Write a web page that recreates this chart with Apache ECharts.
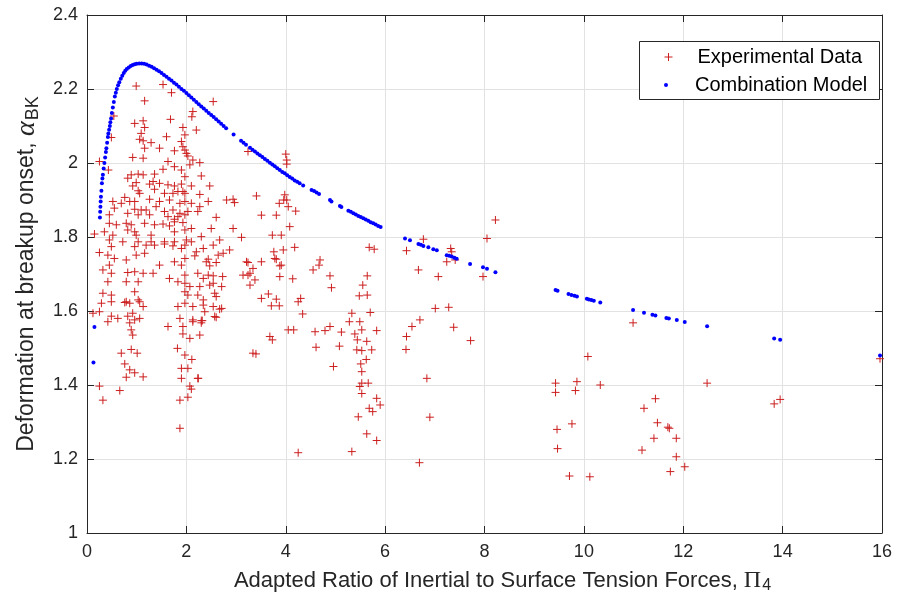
<!DOCTYPE html>
<html><head><meta charset="utf-8">
<script src="https://cdn.jsdelivr.net/npm/echarts/dist/echarts.min.js"></script>
<style>html,body{margin:0;padding:0;background:#fff}#c{width:897px;height:603px}</style>
</head><body><div id="c"></div>
<script>
// ---------- data ----------
const seriesNames = ['Experimental Data', 'Combination Model'];
const xTicks = [0, 2, 4, 6, 8, 10, 12, 14, 16];
const yTicks = [1, 1.2, 1.4, 1.6, 1.8, 2, 2.2, 2.4];

const expX = [
0.99,1.53,1.70,2.54,1.16,0.54,0.96,1.13,1.68,1.16,2.13,2.11,1.93,2.20,1.97,1.09,1.06,1.13,1.29,1.60,1.90,1.93,1.97,2.00,1.46,1.76,1.16,0.92,1.13,1.63,2.03,2.13,2.27,0.49,0.25,3.24,4.00,4.02,4.02,
0.43,2.07,2.30,0.89,1.03,1.13,0.82,1.36,1.53,1.76,1.90,1.97,0.92,0.99,1.26,1.33,1.46,1.63,1.76,1.90,1.93,1.97,2.10,2.47,1.03,1.06,1.36,1.56,1.73,1.83,2.27,0.76,0.86,0.96,0.69,0.52,1.26,1.46,1.66,1.87,1.97,2.10,2.44,2.81,2.94,2.97,0.55,0.96,1.09,1.19,1.39,1.56,1.73,1.87,2.03,2.23,2.27,0.45,0.82,1.03,1.26,1.63,1.76,1.83,1.97,2.60,0.45,0.59,0.79,0.89,1.16,1.36,1.53,1.66,1.76,1.93,2.10,2.50,2.94,0.15,0.35,0.52,0.82,0.96,0.99,1.29,1.76,1.97,2.30,2.67,3.11,0.45,0.72,1.03,1.29,1.56,1.76,2.00,2.10,
0.25,0.42,0.49,0.96,1.19,1.36,1.56,1.73,1.90,1.97,2.20,2.34,2.54,2.74,2.87,0.45,0.55,0.79,0.99,1.16,1.46,1.76,1.90,1.97,2.17,2.47,2.60,3.24,0.32,0.49,0.82,0.96,1.13,1.33,1.66,1.83,1.97,2.23,2.34,2.54,3.14,3.28,3.28,0.42,0.79,1.03,0.96,1.97,2.07,2.27,2.47,2.71,0.32,0.49,0.79,1.03,1.97,2.03,2.23,2.57,2.60,0.29,0.49,0.76,0.86,1.06,1.13,1.83,1.97,2.13,2.34,2.54,2.71,0.12,0.25,0.49,0.62,0.82,0.92,0.96,1.06,1.87,2.13,2.30,2.60,
0.42,0.86,0.89,0.92,1.63,1.93,1.93,2.07,2.27,2.13,2.30,0.69,0.89,1.01,1.82,1.97,2.11,3.34,0.76,0.86,0.96,0.79,1.13,1.90,2.03,1.90,2.23,0.25,0.66,2.07,2.10,0.32,1.87,2.03,1.87,
3.41,3.51,3.81,3.87,3.96,3.73,3.21,3.51,3.81,3.76,2.44,2.64,3.78,3.88,3.34,3.24,3.88,3.38,3.51,3.65,3.81,3.71,3.87,3.68,3.73,3.40,2.40,2.44,2.73,2.54,2.34,2.37,2.67,2.57,2.32,2.24,
3.98,4.02,4.05,4.20,4.08,3.91,4.18,3.95,4.14,4.30,4.25,4.34,4.05,4.16,4.25,3.91,4.69,4.67,4.55,4.89,4.92,4.59,4.79,4.89,4.61,5.12,5.08,4.96,5.33,5.68,5.78,5.64,5.55,5.48,5.64,5.70,5.33,5.28,5.49,5.83,5.53,5.39,5.44,5.63,5.43,5.53,5.73,5.62,5.51,5.53,5.53,5.66,5.49,5.53,5.83,5.90,5.68,5.75,5.46,5.63,5.83,6.43,6.77,6.67,7.07,7.32,7.34,7.24,7.41,8.22,8.05,7.97,7.01,7.28,6.54,6.70,6.43,6.42,7.38,7.72,6.84,6.90,6.69,9.43,9.43,9.86,9.83,9.46,9.76,9.47,
10.99,10.08,10.33,9.71,10.12,11.44,11.21,11.48,11.69,11.72,11.41,11.86,11.17,11.86,12.03,11.74,12.48,13.83,13.95,15.96
];
const expY = [
2.208,2.212,2.19,2.166,2.168,2.127,2.107,2.114,2.118,2.096,2.139,2.125,2.096,2.089,2.076,2.08,2.064,2.06,2.055,2.071,2.058,2.044,2.035,2.026,2.04,2.033,2.04,2.015,2.013,2.004,2.019,2.008,2.001,2.069,2.004,2.031,2.024,2.008,1.997,
1.981,1.995,1.965,1.968,1.970,1.968,1.959,1.970,1.983,1.990,1.981,1.963,1.938,1.947,1.943,1.950,1.945,1.941,1.938,1.943,1.923,1.918,1.938,1.938,1.925,1.918,1.929,1.918,1.918,1.923,1.915,1.907,1.896,1.896,1.891,1.896,1.902,1.896,1.900,1.891,1.896,1.891,1.896,1.900,1.902,1.893,1.878,1.875,1.873,1.873,1.882,1.869,1.873,1.864,1.869,1.869,1.882,1.860,1.864,1.860,1.860,1.855,1.848,1.855,1.860,1.853,1.837,1.833,1.837,1.833,1.837,1.833,1.835,1.830,1.841,1.839,1.823,1.823,1.823,1.808,1.814,1.805,1.819,1.814,1.805,1.805,1.814,1.819,1.801,1.792,1.799,1.792,1.787,1.787,1.787,1.787,1.787,1.792,1.787,
1.758,1.751,1.774,1.774,1.778,1.778,1.781,1.776,1.769,1.778,1.760,1.769,1.778,1.756,1.765,1.724,1.742,1.738,1.751,1.756,1.724,1.733,1.724,1.742,1.749,1.722,1.731,1.731,1.711,1.702,1.704,1.706,1.702,1.702,1.688,1.679,1.697,1.702,1.688,1.695,1.697,1.702,1.670,1.679,1.679,1.679,1.652,1.675,1.666,1.666,1.670,1.666,1.648,1.643,1.625,1.630,1.652,1.643,1.643,1.648,1.639,1.621,1.625,1.623,1.621,1.625,1.612,1.612,1.621,1.612,1.616,1.612,1.607,1.594,1.598,1.586,1.580,1.586,1.594,1.576,1.580,1.580,1.576,1.574,1.583,
1.571,1.568,1.549,1.535,1.558,1.558,1.538,1.526,1.535,1.571,1.568,1.486,1.496,1.486,1.499,1.481,1.469,1.486,1.457,1.441,1.433,1.421,1.422,1.445,1.445,1.418,1.418,1.397,1.385,1.397,1.389,1.359,1.359,1.367,1.283,
1.911,1.859,1.859,1.891,1.900,1.805,1.733,1.733,1.740,1.760,1.740,1.751,1.742,1.722,1.715,1.697,1.693,1.684,1.634,1.646,1.632,1.614,1.614,1.531,1.522,1.484,1.733,1.697,1.693,1.675,1.630,1.598,1.605,1.585,1.574,1.418,
1.914,1.900,1.882,1.870,1.828,1.805,1.772,1.765,1.687,1.634,1.625,1.592,1.549,1.549,1.217,1.724,1.738,1.724,1.711,1.695,1.663,1.544,1.547,1.558,1.502,1.543,1.505,1.450,1.220,1.772,1.767,1.695,1.670,1.641,1.643,1.596,1.594,1.571,1.571,1.547,1.549,1.538,1.522,1.518,1.495,1.493,1.495,1.469,1.457,1.436,1.405,1.405,1.396,1.377,1.364,1.346,1.337,1.328,1.314,1.268,1.250,1.763,1.794,1.711,1.693,1.769,1.760,1.733,1.738,1.846,1.796,1.693,1.607,1.610,1.558,1.576,1.531,1.496,1.556,1.520,1.418,1.313,1.190,1.405,1.380,1.409,1.385,1.280,1.295,1.228,
1.568,1.477,1.400,1.154,1.152,1.363,1.337,1.298,1.286,1.283,1.256,1.256,1.224,1.206,1.179,1.166,1.405,1.349,1.361,1.471
];

const modelX = [
0.13,0.15,0.26,0.265,0.27,0.275,0.28,0.29,0.30,0.31,0.32,0.335,0.35,0.365,0.38,0.39,0.405,0.42,0.43,0.445,0.46,0.47,0.485,0.50,0.52,0.54,0.56,0.58,0.60,0.625,0.65,0.68,0.71,0.74,0.77,0.80,0.84,0.88,0.92,0.96,
1.00,1.05,1.10,1.15,1.20,1.25,1.30,1.35,1.40,1.45,1.50,1.55,1.60,1.65,1.70,1.75,1.80,1.85,1.90,1.95,2.00,2.05,2.10,2.15,2.20,2.25,2.30,2.35,2.40,2.45,2.50,2.55,2.60,2.65,2.70,2.75,2.80,2.95,3.10,3.15,3.20,3.28,3.33,3.38,3.43,3.48,3.53,3.58,3.63,3.68,3.73,3.78,3.83,3.88,3.93,3.98,4.03,4.08,4.13,4.18,4.23,4.28,4.35,
4.52,4.57,4.62,4.67,4.89,4.92,5.09,5.12,5.26,5.31,5.36,5.41,5.46,5.51,5.56,5.61,5.66,5.71,5.76,5.81,5.86,5.91,
6.40,6.50,6.67,6.72,6.77,6.87,6.97,7.04,7.24,7.29,7.34,7.39,7.44,7.71,7.97,8.05,8.22,
9.43,9.47,9.69,9.75,9.81,9.86,10.06,10.10,10.15,10.20,10.33,10.99,11.21,11.38,11.44,11.66,11.71,11.87,12.03,12.48,13.83,13.95,15.96
];
const modelY = [
1.461,1.557,1.853,1.868,1.882,1.896,1.909,1.925,1.945,1.958,1.968,1.985,2.000,2.015,2.030,2.040,2.055,2.070,2.080,2.090,2.100,2.110,2.120,2.135,2.150,2.165,2.180,2.190,2.200,2.210,2.218,2.228,2.236,2.243,2.249,2.254,2.258,2.262,2.265,2.267,
2.268,2.269,2.269,2.268,2.266,2.263,2.260,2.256,2.252,2.248,2.243,2.238,2.233,2.228,2.223,2.217,2.212,2.206,2.200,2.195,2.189,2.183,2.177,2.171,2.165,2.159,2.153,2.147,2.141,2.135,2.130,2.124,2.118,2.112,2.106,2.100,2.094,2.077,2.060,2.055,2.049,2.041,2.036,2.031,2.026,2.021,2.016,2.011,2.006,2.001,1.996,1.991,1.986,1.981,1.976,1.972,1.967,1.962,1.958,1.953,1.949,1.945,1.939,
1.927,1.924,1.920,1.916,1.900,1.896,1.884,1.881,1.871,1.868,1.864,1.861,1.857,1.854,1.851,1.847,1.844,1.840,1.837,1.834,1.830,1.827,
1.796,1.791,1.781,1.779,1.776,1.772,1.767,1.764,1.751,1.749,1.747,1.744,1.741,1.727,1.718,1.714,1.705,
1.657,1.655,1.646,1.643,1.641,1.639,1.633,1.631,1.630,1.628,1.623,1.603,1.595,1.590,1.588,1.581,1.580,1.576,1.570,1.559,1.526,1.522,1.480
];

// ---------- chart ----------
const ink = '#262626';
const red = '#cc1f1f';
const blue = '#0000ff';
const plusPath = 'path://M0,5L10,5M5,0L5,10';
const sans = '"Liberation Sans", Arial, sans-serif';
const serif = '"Liberation Serif", "DejaVu Serif", serif';

const expData = expX.map((x, i) => [x, expY[i]]);
const modelData = modelX.map((x, i) => [x, modelY[i]]);

const xMin = xTicks[0], xMax = xTicks[xTicks.length - 1], xInt = xTicks[1] - xTicks[0];
const yMin = yTicks[0], yMax = yTicks[yTicks.length - 1], yInt = +(yTicks[1] - yTicks[0]).toFixed(2);

function axisBase(extra) {
  return Object.assign({
    type: 'value',
    axisLine: { show: true, onZero: false, lineStyle: { color: ink, width: 1 } },
    axisTick: { show: true, inside: true, length: 7, lineStyle: { color: ink, width: 1 } },
    splitLine: { show: false },
    axisLabel: { show: false }
  }, extra);
}

const chart = echarts.init(document.getElementById('c'), null, { renderer: 'canvas' });
chart.setOption({
  animation: false,
  backgroundColor: '#ffffff',
  grid: { left: 87, right: 15, top: 15, bottom: 70, containLabel: false },
  xAxis: [
    axisBase({
      position: 'bottom', min: xMin, max: xMax, interval: xInt,
      splitLine: { show: true, lineStyle: { color: '#e2e2e2', width: 1 } },
      axisLabel: { show: true, color: ink, fontSize: 18, fontFamily: sans, margin: 10,
        formatter: v => String(v) },
      name: 'Adapted Ratio of Inertial to Surface Tension Forces, {p|Π}{s|4}',
      nameLocation: 'middle', nameGap: 34,
      nameTextStyle: { color: ink, fontSize: 22, fontFamily: sans, padding: [0, 0, 0, 36],
        rich: { p: { fontFamily: serif, fontSize: 24, color: ink },
                s: { fontFamily: sans, fontSize: 16, color: ink, padding: [11, 0, 0, 1] } } }
    }),
    axisBase({ position: 'top', min: xMin, max: xMax, interval: xInt })
  ],
  yAxis: [
    axisBase({
      position: 'left', min: yMin, max: yMax, interval: yInt,
      splitLine: { show: true, lineStyle: { color: '#e2e2e2', width: 1 } },
      axisLabel: { show: true, color: ink, fontSize: 18, fontFamily: sans, margin: 9,
        formatter: v => String(Math.round(v * 10) / 10) },
      name: 'Deformation at breakup onset, {a|α}{s|BK}',
      nameLocation: 'middle', nameRotate: 90, nameGap: 45,
      nameTextStyle: { color: ink, fontSize: 23, fontFamily: sans,
        rich: { a: { fontFamily: serif, fontStyle: 'italic', fontSize: 28, color: ink },
                s: { fontFamily: sans, fontSize: 18, color: ink, padding: [13, 0, 0, 1] } } }
    }),
    axisBase({ position: 'right', min: yMin, max: yMax, interval: yInt })
  ],
  graphic: [{
    type: 'rect', left: 639, top: 41, z: 50,
    shape: { width: 240, height: 58 },
    style: { fill: '#ffffff', stroke: ink, lineWidth: 1 }
  }],
  legend: [
    {
      z: 60, left: 664, top: 47, padding: 0, selectedMode: false,
      itemWidth: 40, itemHeight: 8, symbolKeepAspect: true,
      textStyle: { color: '#000', fontSize: 20, fontFamily: sans, padding: [0, 0, 0, 4] },
      data: [{ name: seriesNames[0], icon: plusPath,
        itemStyle: { color: 'rgba(0,0,0,0)', borderColor: red, borderWidth: 1 } }]
    },
    {
      z: 60, left: 664, top: 75, padding: 0, selectedMode: false,
      itemWidth: 40, itemHeight: 4, symbolKeepAspect: true,
      textStyle: { color: '#000', fontSize: 20, fontFamily: sans, padding: [0, 0, 0, 4] },
      data: [{ name: seriesNames[1], icon: 'circle', itemStyle: { color: blue, borderWidth: 0 } }]
    }
  ],
  series: [
    {
      name: seriesNames[0], type: 'scatter', xAxisIndex: 0, yAxisIndex: 0,
      data: expData, symbol: plusPath, symbolSize: 8,
      itemStyle: { color: 'rgba(0,0,0,0)', borderColor: red, borderWidth: 1, opacity: 1 },
      emphasis: { disabled: true }, silent: true
    },
    {
      name: seriesNames[1], type: 'scatter', xAxisIndex: 0, yAxisIndex: 0,
      data: modelData, symbol: 'circle', symbolSize: 4,
      itemStyle: { color: blue, borderWidth: 0, opacity: 1 },
      emphasis: { disabled: true }, silent: true
    }
  ]
});
</script>
</body></html>
